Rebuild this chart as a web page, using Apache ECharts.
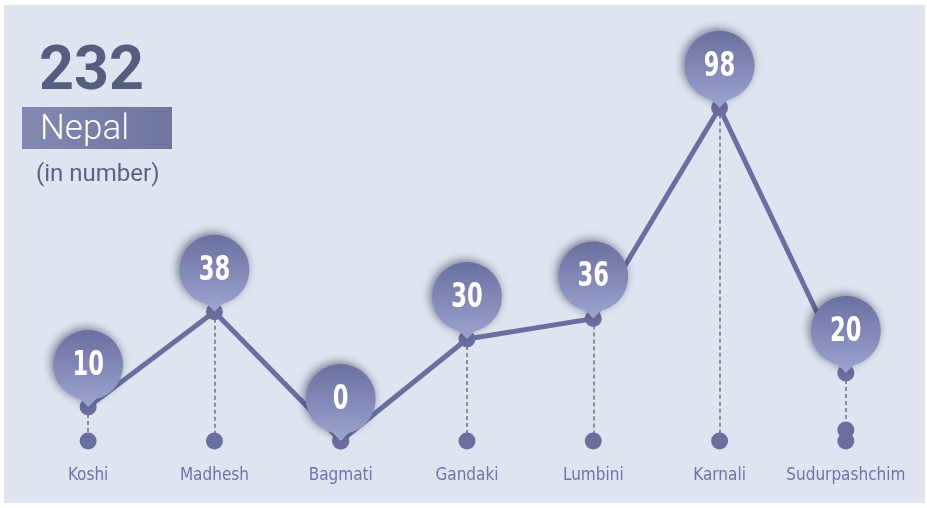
<!DOCTYPE html>
<html>
<head>
<meta charset="utf-8">
<script src="https://cdn.jsdelivr.net/npm/echarts@6/dist/echarts.min.js"></script>
<style>
  html, body { margin: 0; padding: 0; background: #ffffff; }
  #chart { width: 927px; height: 508px; }
</style>
</head>
<body>
<div id="chart"></div>
<script>
// Province counts for Nepal
const provinces = ['Koshi', 'Madhesh', 'Bagmati', 'Gandaki', 'Lumbini', 'Karnali', 'Sudurpashchim'];
const counts = [10, 38, 0, 30, 36, 98, 20];
const totalLabel = '232';
const regionLabel = 'Nepal';
const unitLabel = '(in number)';

const lineColor = '#6a6fa0';
const condensed = '"DejaVu Sans Condensed", "Liberation Sans Narrow", sans-serif';

// balloon pin: circle of radius 35 with a short tail, tip at the bottom centre
const pinPathData = 'M27,69 A35,35 0 1,1 43,69 L35,77 Z';
const PIN_W = 70, PIN_H = 77, PIN_R = 35;

const baseline = provinces.map(() => 0);

const chart = echarts.init(document.getElementById('chart'));
chart.setOption({
  backgroundColor: '#ffffff',
  animation: false,
  graphic: [
    { type: 'rect', z: -10, shape: { x: 4, y: 5, width: 921, height: 498 }, style: { fill: '#dee4f0' } },
    {
      type: 'rect', shape: { x: 22, y: 107, width: 150, height: 42 },
      style: { fill: new echarts.graphic.LinearGradient(0, 0, 1, 0, [
        { offset: 0, color: '#8389b0' }, { offset: 1, color: '#6f75a0' }]) }
    },
    { type: 'text', x: 40, y: 130, style: { text: regionLabel, fill: '#ffffff', font: '300 35px Roboto, sans-serif', verticalAlign: 'middle' } },
    { type: 'text', x: 39, y: 74, style: { text: totalLabel, fill: '#565d7e', font: 'bold 61px Roboto, sans-serif', verticalAlign: 'middle' } },
    { type: 'text', x: 36, y: 175, style: { text: unitLabel, fill: '#5d6384', font: '24px Roboto, sans-serif', verticalAlign: 'middle' } }
  ],
  grid: { left: 25, right: 18, top: 101, bottom: 67 },
  xAxis: {
    type: 'category',
    data: provinces,
    boundaryGap: true,
    axisLine: { show: false },
    axisTick: { show: false },
    axisLabel: { interval: 0, color: '#6f75a8', fontSize: 17, fontFamily: condensed, margin: 26 }
  },
  yAxis: {
    type: 'value', min: 0, max: 100,
    show: false, splitLine: { show: false }
  },
  series: [
    {
      type: 'line',
      data: counts,
      z: 3,
      symbol: 'circle',
      symbolSize: 17,
      showAllSymbol: true,
      lineStyle: { color: lineColor, width: 5 },
      itemStyle: { color: lineColor, opacity: 1 },
      markLine: {
        silent: true,
        symbol: 'none',
        z: 1,
        label: { show: false },
        lineStyle: { color: '#6f7180', width: 1.5, type: [4, 3] },
        data: counts.map((v, i) => [{ coord: [provinces[i], v] }, { coord: [provinces[i], 0] }])
      }
    },
    {
      type: 'scatter',
      z: 2,
      symbol: 'circle',
      symbolSize: 17,
      itemStyle: { color: lineColor, opacity: 1 },
      data: baseline.map((v, i) => [provinces[i], v]).concat([
        { value: [provinces[6], 0], symbolOffset: [0, -11] }
      ])
    },
    {
      type: 'custom',
      z: 5,
      data: counts.map((v, i) => [i, v]),
      renderItem: function (params, api) {
        const pt = api.coord([api.value(0), api.value(1)]);
        return {
          type: 'group',
          children: [
            {
              type: 'path',
              shape: { pathData: pinPathData, x: pt[0] - PIN_W / 2, y: pt[1] - PIN_H, width: PIN_W, height: PIN_H },
              style: {
                fill: new echarts.graphic.LinearGradient(0, 0, 0, 1, [
                  { offset: 0, color: '#6a6f9f' }, { offset: 1, color: '#9ea4d0' }]),
                shadowBlur: 10,
                shadowColor: 'rgba(30, 32, 60, 0.55)',
                shadowOffsetX: -2,
                shadowOffsetY: -2
              }
            },
            {
              type: 'text',
              x: pt[0],
              y: pt[1] - PIN_H + PIN_R + 1,
              scaleX: 0.74,
              style: {
                text: String(api.value(1)),
                fill: '#ffffff',
                font: 'bold 34px "DejaVu Sans Condensed", sans-serif',
                align: 'center',
                verticalAlign: 'middle'
              }
            }
          ]
        };
      }
    }
  ]
});
</script>
</body>
</html>
